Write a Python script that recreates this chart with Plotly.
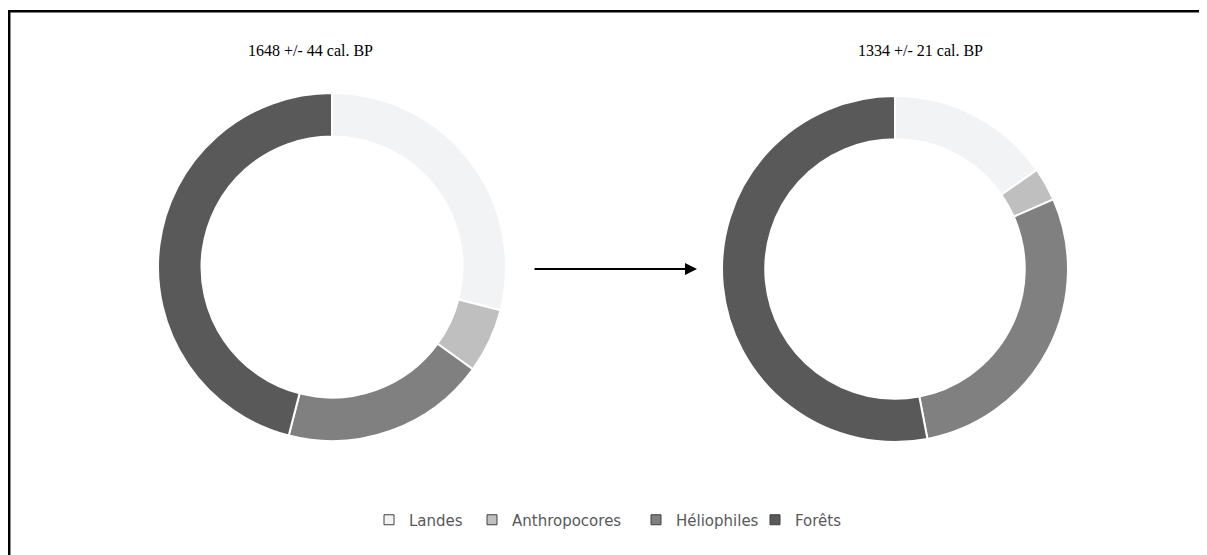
import plotly.graph_objects as go

W, H = 1207, 555

categories = ["Landes", "Anthropocores", "Héliophiles", "Forêts"]
colors = ["#F2F3F5", "#BFBFBF", "#808080", "#595959"]
edge_color = "#404040"

vals_1648 = [29, 6, 19, 46]
vals_1334 = [15.3, 3.1, 28.6, 53]

title_1648 = "1648 +/- 44 cal. BP"
title_1334 = "1334 +/- 21 cal. BP"

# the page body adds 8px around the figure, positions below are in figure pixels
legend_x = [381, 484, 648, 767]


def dom(cx, cy, r):
    return dict(x=[(cx - r) / W, (cx + r) / W], y=[1 - (cy + r) / H, 1 - (cy - r) / H])


fig = go.Figure()
for vals, (cx, cy, r) in [(vals_1648, (324, 259, 174)), (vals_1334, (887, 261, 173))]:
    fig.add_trace(go.Pie(
        labels=categories, values=vals, hole=0.75, sort=False,
        direction="clockwise", rotation=0, textinfo="none", hoverinfo="label+value",
        marker=dict(colors=colors, line=dict(color="white", width=2)),
        domain=dom(cx, cy, r), showlegend=False,
    ))

# legend entries, one small legend per entry so the spacing can follow the original
legends = {}
for i, (name, c, lx) in enumerate(zip(categories, colors, legend_x)):
    key = "legend" if i == 0 else f"legend{i + 1}"
    fig.add_trace(go.Scatter(
        x=[None], y=[None], mode="markers", name=name, legend=key,
        marker=dict(symbol="square", size=10, color=c, line=dict(color=edge_color, width=1)),
    ))
    legends[key] = dict(x=(lx - 20) / W, xanchor="left", y=1 - 512 / H, yanchor="middle",
                        font=dict(family="DejaVu Sans", size=15, color="#595959"),
                        itemwidth=30, bgcolor="rgba(0,0,0,0)", borderwidth=0)

for txt, tx in [(title_1648, 302), (title_1334, 912)]:
    fig.add_annotation(x=tx / W, y=1 - 42 / H, xref="paper", yref="paper", text=txt,
                       xanchor="center", yanchor="middle", showarrow=False,
                       font=dict(family="Liberation Serif", size=16, color="black"))

# arrow between the two dates
fig.add_annotation(x=689 / W, y=1 - 261 / H, xref="paper", yref="paper", text="",
                   showarrow=True, ax=-164, ay=0, arrowhead=2, arrowsize=1.2,
                   arrowwidth=2, arrowcolor="black")

# outer frame
fig.add_shape(type="rect", xref="paper", yref="paper",
              x0=1.2 / W, x1=1.02, y0=-0.02, y1=1 - 3.3 / H,
              line=dict(color="black", width=2.5))

fig.update_layout(
    width=W, height=H,
    margin=dict(l=0, r=0, t=0, b=0),
    paper_bgcolor="white", plot_bgcolor="white",
    xaxis=dict(visible=False), yaxis=dict(visible=False),
    **legends,
)

fig.write_html("out.html")
